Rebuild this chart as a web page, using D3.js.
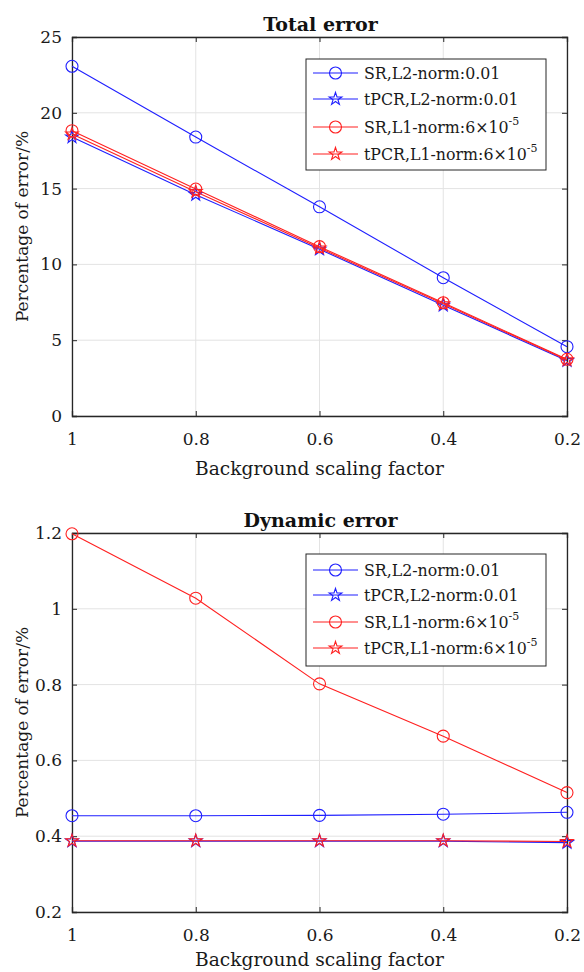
<!DOCTYPE html>
<html><head><meta charset="utf-8">
<script src="https://cdn.jsdelivr.net/npm/d3@7"></script>
<style>body{margin:0;background:#fff}svg{display:block}</style>
</head><body>
<script>
const xValues = [1, 0.8, 0.6, 0.4, 0.2];
const seriesNames = ["SR,L2-norm:0.01", "tPCR,L2-norm:0.01", "SR,L1-norm:6×10", "tPCR,L1-norm:6×10"];
const seriesSup = ["", "", "-5", "-5"];
const seriesColors = ["#1f1fff", "#1f1fff", "#ff2020", "#ff2020"];
const seriesMarkers = ["circle", "star", "circle", "star"];
// Total error
const totalSR_L2 = [23.07, 18.4, 13.8, 9.12, 4.57];
const totalTPCR_L2 = [18.4, 14.6, 11.0, 7.3, 3.65];
const totalSR_L1 = [18.82, 14.97, 11.17, 7.47, 3.74];
const totalTPCR_L1 = [18.6, 14.8, 11.08, 7.4, 3.7];
// Dynamic error
const dynSR_L2 = [0.454, 0.454, 0.455, 0.458, 0.463];
const dynTPCR_L2 = [0.387, 0.387, 0.387, 0.387, 0.383];
const dynSR_L1 = [1.198, 1.028, 0.802, 0.664, 0.515];
const dynTPCR_L1 = [0.388, 0.388, 0.388, 0.388, 0.386];
const xTicks = [1, 0.8, 0.6, 0.4, 0.2];
const totalYTicks = [0, 5, 10, 15, 20, 25];
const dynYTicks = [0.2, 0.4, 0.6, 0.8, 1, 1.2];

const W = 584, H = 972;
const FONT = "DejaVu Serif";
const svg = d3.select("body").append("svg").attr("width", W).attr("height", H)
  .style("font-family", FONT);

const starPath = d3.symbol().type(d3.symbolStar).size(50)();

function drawPanel(cfg) {
  const {top, bottom, left, right, yDomain, yTicks, title, series, legendTop, legendH, legendRows, xLabelOff} = cfg;
  const g = svg.append("g");
  const x = d3.scaleLinear().domain([1, 0.2]).range([left, right]);
  const y = d3.scaleLinear().domain(yDomain).range([bottom, top]);
  // grid
  g.append("g").selectAll("line").data(xTicks).join("line")
    .attr("x1", d => x(d)).attr("x2", d => x(d)).attr("y1", top).attr("y2", bottom)
    .attr("stroke", "#e3e3e3").attr("stroke-width", 1);
  g.append("g").selectAll("line").data(yTicks).join("line")
    .attr("y1", d => y(d)).attr("y2", d => y(d)).attr("x1", left).attr("x2", right)
    .attr("stroke", "#e3e3e3").attr("stroke-width", 1);
  // axes
  const xa = g.append("g").attr("transform", `translate(0,${bottom})`)
    .call(d3.axisBottom(x).tickValues(xTicks).tickSize(-5).tickPadding(17).tickFormat(d3.format("~g")));
  const xt = g.append("g").attr("transform", `translate(0,${top})`)
    .call(d3.axisTop(x).tickValues(xTicks).tickSize(-5).tickFormat(""));
  const ya = g.append("g").attr("transform", `translate(${left},0)`)
    .call(d3.axisLeft(y).tickValues(yTicks).tickSize(-5).tickPadding(10).tickFormat(d3.format("~g")));
  const yr = g.append("g").attr("transform", `translate(${right},0)`)
    .call(d3.axisRight(y).tickValues(yTicks).tickSize(-5).tickFormat(""));
  [xa, xt, ya, yr].forEach(a => {
    a.selectAll("path.domain").attr("stroke", "#262626").attr("stroke-width", 1.3);
    a.selectAll(".tick line").attr("stroke", "#262626");
    a.selectAll("text").attr("fill", "#1a1a1a").style("font-size", "17px").style("font-family", FONT);
  });
  // labels
  g.append("text").attr("x", (left + right) / 2 + 1).attr("y", top - 6).attr("text-anchor", "middle")
    .style("font-size", "19px").style("font-weight", "bold").attr("fill", "#111").text(title);
  g.append("text").attr("x", (left + right) / 2).attr("y", bottom + xLabelOff).attr("text-anchor", "middle")
    .style("font-size", "18.6px").attr("fill", "#1a1a1a").text("Background scaling factor");
  g.append("text").attr("transform", `translate(${left - 44},${(top + bottom) / 2}) rotate(-90)`)
    .attr("text-anchor", "middle").style("font-size", "17px").attr("fill", "#1a1a1a").text("Percentage of error/%");
  // series
  const line = d3.line().x((d, i) => x(xValues[i])).y(d => y(d));
  series.forEach((vals, si) => {
    const col = seriesColors[si];
    g.append("path").datum(vals).attr("d", line).attr("fill", "none").attr("stroke", col).attr("stroke-width", 1.1);
    const m = g.append("g").selectAll("g").data(vals).join("g")
      .attr("transform", (d, i) => `translate(${x(xValues[i])},${y(d)})`);
    if (seriesMarkers[si] === "circle") {
      m.append("circle").attr("r", 6).attr("fill", "none").attr("stroke", col).attr("stroke-width", 1.1);
    } else {
      m.append("path").attr("d", starPath).attr("fill", "none").attr("stroke", col).attr("stroke-width", 1.1);
    }
  });
  // legend
  const lg = g.append("g");
  lg.append("rect").attr("x", 306).attr("y", legendTop).attr("width", 240).attr("height", legendH)
    .attr("fill", "#fff").attr("stroke", "#262626").attr("stroke-width", 1);
  seriesNames.forEach((name, si) => {
    const ry = legendRows[si];
    const col = seriesColors[si];
    lg.append("line").attr("x1", 313).attr("x2", 358).attr("y1", ry).attr("y2", ry).attr("stroke", col).attr("stroke-width", 1.1);
    if (seriesMarkers[si] === "circle") {
      lg.append("circle").attr("cx", 335.5).attr("cy", ry).attr("r", 6).attr("fill", "none").attr("stroke", col).attr("stroke-width", 1.1);
    } else {
      lg.append("path").attr("d", starPath).attr("transform", `translate(335.5,${ry})`).attr("fill", "none").attr("stroke", col).attr("stroke-width", 1.1);
    }
    const t = lg.append("text").attr("x", 364).attr("y", ry + 6).style("font-size", "15.8px").attr("fill", "#1a1a1a");
    t.append("tspan").text(name);
    if (seriesSup[si]) t.append("tspan").attr("dy", -8).style("font-size", "11px").text(seriesSup[si]);
  });
}

drawPanel({top: 37, bottom: 416, left: 72, right: 567, yDomain: [0, 25], yTicks: totalYTicks,
  title: "Total error", series: [totalSR_L2, totalTPCR_L2, totalSR_L1, totalTPCR_L1],
  legendTop: 59, legendH: 111, legendRows: [73, 99, 127, 154], xLabelOff: 59});
drawPanel({top: 533, bottom: 912, left: 72, right: 567, yDomain: [0.2, 1.2], yTicks: dynYTicks,
  title: "Dynamic error", series: [dynSR_L2, dynTPCR_L2, dynSR_L1, dynTPCR_L1],
  legendTop: 554, legendH: 112, legendRows: [570, 595, 622, 648], xLabelOff: 54});
</script>
</body></html>
